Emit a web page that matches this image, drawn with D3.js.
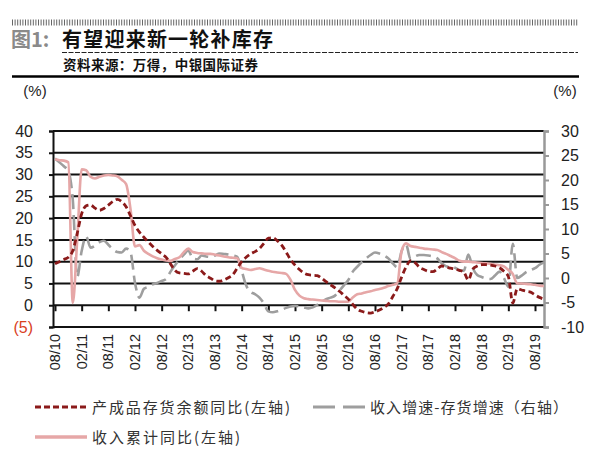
<!DOCTYPE html>
<html><head><meta charset="utf-8">
<script src="https://cdn.jsdelivr.net/npm/d3@7/dist/d3.min.js"></script>
<style>body{margin:0;background:#fff;}svg{display:block;}</style>
</head><body>
<svg id="c" width="600" height="473"></svg>
<script>
// x tick labels (every 6 months from 2010-08)
const tickLabels = ["08/10","02/11","08/11","02/12","08/12","02/13","08/13","02/14","08/14","02/15","08/15","02/16","08/16","02/17","08/17","02/18","08/18","02/19","08/19"];
// monthly series, starting 2010-08
const inventoryYoY = [9.5,10,10.5,11,12.5,16.5,21,22.8,23,22.3,21.8,22.2,23,23.8,24.3,23.8,22.6,20.5,18.3,16.8,15.6,14.5,13.5,12.6,11.8,11.0,9.5,8.0,7.4,7.3,7.2,7.8,8.4,7.8,6.8,6.2,5.6,5.5,5.8,6.3,7.0,8.5,10.0,11.0,11.8,12.3,13.0,14.2,15.4,15.5,14.8,13.8,12.2,10.5,9.2,8.2,7.4,7.0,6.9,6.8,6.2,5.4,4.7,4.0,3.2,2.3,1.4,0.2,-0.9,-1.4,-1.7,-1.8,-1.5,-1.1,-0.5,0.3,2.0,3.8,6.5,8.8,10.2,9.8,8.7,8.2,7.8,7.7,8.3,9.0,8.8,8.5,8.3,8.0,7.6,5.8,8.3,9.0,9.3,9.3,9.2,9.0,8.6,7.8,6.6,0.5,3.8,3.5,3.2,3.0,2.4,1.8,1.4];
const revenueMinusInv = [24.4,23.6,22.8,21.8,16,0.2,5.5,8.5,6.2,6.6,7.3,7.6,6.8,5.9,5.3,5.2,6.0,5.2,-1.0,-4.0,-2.2,-1.8,-1.3,-1.0,-0.6,-0.2,1.3,2.6,3.8,4.8,5.6,4.0,3.8,4.6,4.4,4.3,4.6,5.0,4.9,4.8,4.6,4.3,1.5,-1.5,-2.8,-3.3,-4.0,-5.2,-6.8,-7.0,-6.8,-6.5,-6.1,-5.8,-5.7,-5.8,-6.0,-6.2,-6.0,-5.5,-4.9,-4.3,-4.0,-3.6,-2.6,-1.5,-0.4,1.3,2.3,3.2,4.0,4.7,5.2,5.0,4.6,4.0,3.0,2.2,5.5,6.8,3.8,4.4,4.7,4.7,4.6,4.4,4.0,3.0,2.4,2.3,2.1,1.6,1.5,4.8,2.0,0.6,0.2,-0.1,-0.2,0.5,1.3,0.0,-1.8,7.0,0.0,0.5,1.2,1.6,2.0,2.7,3.2];
const revenueCumYoY = [33.5,33.3,33.2,32.8,0.5,15,31.2,31,29.5,29.1,29.5,29.8,29.9,29.8,29.6,28.8,27.8,22,13.5,13.8,12.5,11.8,11.2,10.8,10.5,10.3,10.2,10.6,11,12.2,13,12.2,12,11.9,11.8,11.8,11.6,11.4,11.2,11.0,10.9,10.8,8.6,8.3,8.1,8.3,8.5,8.2,7.9,7.7,7.5,7.4,7.2,5.8,3.5,2.2,1.6,1.4,1.3,1.2,1.1,1.0,0.9,0.9,0.8,0.8,0.8,1.8,2.5,2.7,3.0,3.2,3.5,3.7,4.0,4.4,4.7,5.0,12.5,14.2,13.6,13.4,13.2,13.0,12.9,12.8,12.7,12.2,11.8,11.3,10.8,10.2,10.0,10.0,9.9,9.8,9.7,9.6,9.5,9.3,9.2,8.9,8.1,7.2,5.0,5.0,4.9,4.8,4.7,4.5,4.4];
const leftTicks = [40,35,30,25,20,15,10,5,0,-5];
const rightTicks = [30,25,20,15,10,5,0,-5,-10];

const svg = d3.select("#c");
const X0 = 55, XSTEP = 480/108;
const x = d3.scaleLinear().domain([0,108]).range([X0, X0+480]);
const yL = d3.scaleLinear().domain([-5,40]).range([327,131]);
const yR = d3.scaleLinear().domain([-10,30]).range([327,131]);
const plotL = 53, plotR = 544;
const numFont = "'Liberation Sans', Arial, sans-serif";
const cjk = "'Noto Sans CJK SC', sans-serif";

// header
svg.append("line").attr("x1",12).attr("x2",578).attr("y1",22.5).attr("y2",22.5)
  .attr("stroke","#666").attr("stroke-width",6).attr("stroke-dasharray","1,1.6");
svg.append("text").attr("x",11).attr("y",47).attr("font-family",cjk).attr("font-weight","bold")
  .attr("font-size",20).attr("fill","#8a8a8a").text("图1:");
svg.append("text").attr("x",62).attr("y",47).attr("font-family",cjk).attr("font-weight","bold")
  .attr("font-size",20).attr("fill","#111").attr("textLength",211).attr("lengthAdjust","spacing").text("有望迎来新一轮补库存");
svg.append("line").attr("x1",62).attr("x2",578).attr("y1",52.5).attr("y2",52.5)
  .attr("stroke","#222").attr("stroke-width",1).attr("stroke-dasharray","5,1.5");
svg.append("text").attr("x",63).attr("y",70).attr("font-family",cjk).attr("font-weight","bold")
  .attr("font-size",13.5).attr("fill","#111").attr("textLength",195).attr("lengthAdjust","spacing").text("资料来源：万得，中银国际证券");
svg.append("line").attr("x1",12).attr("x2",579).attr("y1",76.5).attr("y2",76.5)
  .attr("stroke","#000").attr("stroke-width",2.5);

// unit labels
svg.append("text").attr("x",35).attr("y",96).attr("text-anchor","middle").attr("font-family",numFont).attr("font-size",15).attr("fill","#222").text("(%)");
svg.append("text").attr("x",565).attr("y",96).attr("text-anchor","middle").attr("font-family",numFont).attr("font-size",15).attr("fill","#222").text("(%)");

// gridlines
svg.append("g").selectAll("line").data(leftTicks).join("line")
  .attr("x1",plotL).attr("x2",plotR).attr("y1",d=>yL(d)).attr("y2",d=>yL(d))
  .attr("stroke","#111").attr("stroke-width",2);

// left axis
const gL = svg.append("g").attr("transform",`translate(${plotL},0)`)
  .call(d3.axisLeft(yL).tickValues(leftTicks).tickSize(4).tickPadding(16).tickFormat(d=>d<0?`(${-d})`:d));
gL.select(".domain").attr("stroke","#111").attr("stroke-width",2);
gL.selectAll(".tick line").attr("stroke","#111").attr("stroke-width",2);
gL.selectAll(".tick text").attr("font-family",numFont).attr("font-size",16)
  .attr("fill",d=>d<0?"#d9411e":"#222");

// right axis
const gR = svg.append("g").attr("transform",`translate(${plotR},0)`)
  .call(d3.axisRight(yR).tickValues(rightTicks).tickSize(5).tickPadding(12).tickFormat(d=>d));
gR.select(".domain").attr("stroke","#999").attr("stroke-width",2.5);
gR.selectAll(".tick line").attr("stroke","#999").attr("stroke-width",2);
gR.selectAll(".tick text").attr("font-family",numFont).attr("font-size",16).attr("fill","#222");

// bottom ticks on zero line + labels
const tickIdx = tickLabels.map((d,i)=>i*6);
const gX = svg.append("g").attr("transform",`translate(0,${yL(0)})`)
  .call(d3.axisBottom(x).tickValues(tickIdx).tickSize(6).tickFormat(""));
gX.select(".domain").remove();
gX.selectAll(".tick line").attr("stroke","#111").attr("stroke-width",2);
svg.append("g").selectAll("text").data(tickLabels).join("text")
  .attr("transform",(d,i)=>`translate(${x(i*6)+5},334) rotate(-90)`)
  .attr("text-anchor","end").attr("font-family",numFont).attr("font-size",14.5).attr("fill","#222")
  .text(d=>d);

// series
const lineL = d3.line().x((d,i)=>x(i)).y(d=>yL(d)).curve(d3.curveMonotoneX);
const lineR = d3.line().x((d,i)=>x(i)).y(d=>yR(d)).curve(d3.curveMonotoneX);
svg.append("path").datum(revenueMinusInv).attr("d",lineR).attr("fill","none")
  .attr("stroke","#9e9e9e").attr("stroke-width",2.6).attr("stroke-dasharray","15,6");
svg.append("path").datum(revenueCumYoY).attr("d",lineL).attr("fill","none")
  .attr("stroke","#e6a7a7").attr("stroke-width",2.6);
svg.append("path").datum(inventoryYoY).attr("d",lineL).attr("fill","none")
  .attr("stroke","#8b1a1a").attr("stroke-width",2.8).attr("stroke-dasharray","6,3.5");

// legend
const leg = [
  {x:35,y:407,label:"产成品存货余额同比(左轴)",stroke:"#8b1a1a",dash:"6,3",len:198,w:3},
  {x:313,y:407,label:"收入增速-存货增速（右轴）",stroke:"#9e9e9e",dash:"22,8",len:198,w:3},
  {x:35,y:437,label:"收入累计同比(左轴)",stroke:"#e6a7a7",dash:null,len:148,w:3.5}
];
const lg = svg.append("g").selectAll("g").data(leg).join("g");
lg.append("line").attr("x1",d=>d.x).attr("x2",d=>d.x+52).attr("y1",d=>d.y).attr("y2",d=>d.y)
  .attr("stroke",d=>d.stroke).attr("stroke-width",d=>d.w).attr("stroke-dasharray",d=>d.dash);
lg.append("text").attr("x",d=>d.x+57).attr("y",d=>d.y+6).attr("font-family",cjk).attr("font-size",15)
  .attr("fill","#333").attr("textLength",d=>d.len).attr("lengthAdjust","spacing").text(d=>d.label);
</script>
</body></html>
